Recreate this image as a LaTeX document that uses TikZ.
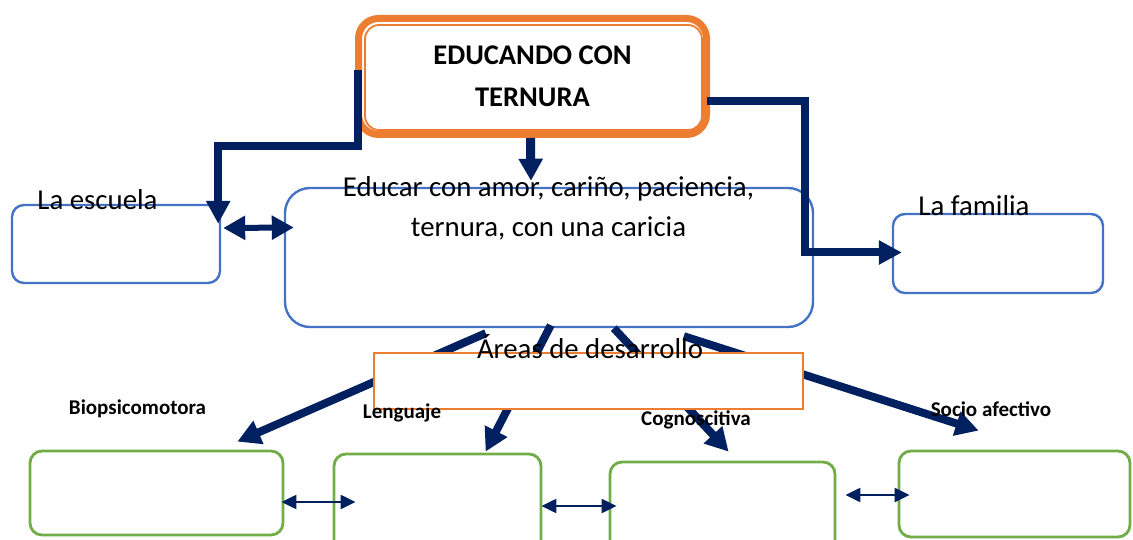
\documentclass[tikz,border=0pt]{standalone}
\usepackage{fontspec}
\setmainfont{Carlito}
\usetikzlibrary{arrows.meta,calc}
\definecolor{cOrange}{HTML}{ED7D31}
\definecolor{cBlue}{HTML}{4472C4}
\definecolor{cGreen}{HTML}{70AD47}
\definecolor{cNavy}{HTML}{002060}
\begin{document}
\begin{tikzpicture}[x=1pt,y=-1pt,
  bluebox/.style={draw=cBlue, line width=2.4pt, rounded corners=#1, inner sep=0pt},
  greenbox/.style={draw=cGreen, line width=2.8pt, rounded corners=12pt, inner sep=0pt},
  bigtxt/.style={font=\fontsize{28.8}{40}\selectfont, inner sep=0pt},
  lbl/.style={font=\bfseries\fontsize{21}{24}\selectfont, inner sep=0pt, anchor=base},
  thickarrow/.style={draw=cNavy, line width=8pt, -{Triangle[width=24pt,length=23pt]}},
  linkarrow/.style={draw=cNavy, line width=8pt, -{Triangle[width=23pt,length=23pt]}},
  midarrow/.style={draw=cNavy, line width=6pt, {Triangle[width=23pt,length=22pt]}-{Triangle[width=23pt,length=22pt]}},
  thinarrow/.style={draw=cNavy, line width=2.2pt, {Triangle[width=14pt,length=15pt]}-{Triangle[width=14pt,length=15pt]}}]
\useasboundingbox (0,0) rectangle (1133,540);
\clip (0,0) rectangle (1133,540);
% central box
\node[bluebox=25pt, minimum width=528pt, minimum height=139pt] (central) at (549,257.5) {};
\node[bigtxt, align=center] (centraltext) at (548.5,208) {Educar con amor, cariño, paciencia,\\ternura, con una caricia};
% side boxes
\node[bluebox=12pt, minimum width=208pt, minimum height=78pt] (escuela) at (116,244) {};
\node[bigtxt, anchor=base] (escuelatext) at (97.5,210) {La escuela};
\node[bluebox=12pt, minimum width=210pt, minimum height=79pt] (familia) at (998,253.5) {};
\node[bigtxt, anchor=base] (familiatext) at (974,216) {La familia};
% title
\node[draw=cOrange, line width=7pt, rounded corners=20pt, minimum width=348pt, minimum height=116pt, inner sep=0pt,
      align=center, font=\bfseries\fontsize{28.5}{42}\selectfont] (title) at (532.5,76.5) {EDUCANDO CON\\TERNURA};
\draw[cOrange, line width=1.8pt, rounded corners=14pt] ($(title.north west)+(10,10)$) rectangle ($(title.south east)+(-8,-8)$);
% connectors from title
\coordinate (lbend1) at ($(title.north west)+(3,55)$);
\draw[linkarrow] (lbend1) -- ++(0,76) -| ($(escuela.north east)+(-3,20)$);
\draw[linkarrow] ($(title.north east)+(-3,86)$) -- ++(98,0) |- ($(familia.west)+(10,-1)$);
\draw[draw=cNavy, line width=9pt, -{Triangle[width=23pt,length=22pt]}] (title.south -| 530.5,0) -- ($(central.north)+(-18,-6)$);
% escuela <-> central
\draw[midarrow] ($(escuela.east)+(2,-16)$) -- ($(central.west)+(10,-30)$);
% bottom boxes
\node[greenbox, minimum width=253pt, minimum height=84pt] (bio) at (156.5,493) {};
\node[greenbox, minimum width=207pt, minimum height=100pt] (leng) at (437.5,504) {};
\node[greenbox, minimum width=225pt, minimum height=100pt] (cogn) at (722.5,512) {};
\node[greenbox, minimum width=231pt, minimum height=86pt] (socio) at (1014.5,494) {};
% arrows from central to bottom
\draw[thickarrow] ($(central.south west)+(202,5)$) -- ($(bio.north east)+(-47,-8)$);
\draw[thickarrow] ($(central.south west)+(267,-3)$) -- ($(leng.north west)+(153,-1)$);
\draw[thickarrow] ($(central.south west)+(330,0)$) -- ($(cogn.north west)+(120,-9)$);
\draw[thickarrow] ($(central.south west)+(400,8)$) -- ($(socio.north west)+(81,-19)$);
% areas box
\node[draw=cOrange, line width=2pt, fill=white, minimum width=429pt, minimum height=56pt, inner sep=0pt] (areas) at (588.5,381) {};
\node[bigtxt, anchor=base] (areastext) at (590,358) {Áreas de desarrollo};
% labels
\node[lbl] (biolbl) at (137.5,414) {Biopsicomotora};
\node[lbl] (lenglbl) at (402,418) {Lenguaje};
\node[lbl] (cognlbl) at (696,425) {Cognoscitiva};
\node[lbl] (sociolbl) at (991,416) {Socio afectivo};
% thin double arrows
\draw[thinarrow] ($(bio.east)+(-3,9)$) -- ($(leng.west)+(23,-2)$);
\draw[thinarrow] ($(leng.east)+(-1,2)$) -- ($(cogn.west)+(8,-6)$);
\draw[thinarrow] ($(cogn.east)+(9,-17)$) -- ($(socio.west)+(12,1)$);
\end{tikzpicture}
\end{document}
